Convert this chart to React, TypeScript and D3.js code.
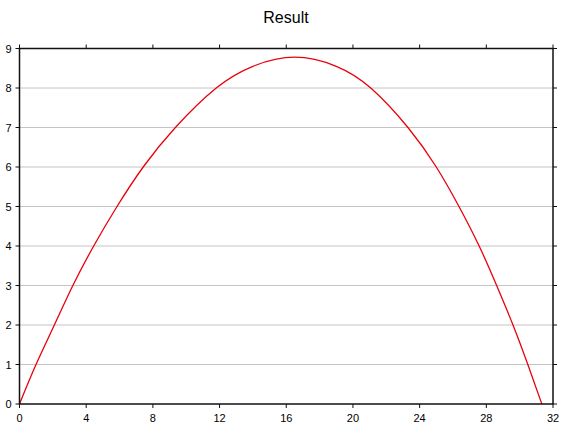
import React, { useEffect, useRef } from "react";
import * as d3 from "d3";

const title = "Result";
const xTicks = [0, 4, 8, 12, 16, 20, 24, 28, 32];
const yTicks = [0, 1, 2, 3, 4, 5, 6, 7, 8, 9];

// values
const xValues = [
  0, 0.99, 2.09, 3.2, 4.45, 5.85, 7.42, 9.35, 11.8, 14.0, 16.5, 19.0,
  21.07, 23.3, 25.0, 26.36, 27.57, 28.62, 29.6, 30.49, 31.33,
];
const yValues = [
  0, 1, 2, 3, 4, 5, 6, 7, 8, 8.55, 8.78, 8.55, 8, 7, 6, 5, 4, 3, 2, 1, 0,
];

const width = 570;
const height = 430;
const margin = { top: 48.5, right: 17, bottom: 26, left: 19.5 };

function App() {
  const ref = useRef<SVGSVGElement>(null);

  useEffect(() => {
    const svg = d3.select(ref.current);
    svg.selectAll("*").remove();

    const x = d3
      .scaleLinear()
      .domain([0, 32])
      .range([margin.left, width - margin.right]);
    const y = d3
      .scaleLinear()
      .domain([0, 9])
      .range([height - margin.bottom, margin.top]);

    const font = "'Liberation Sans', Arial, sans-serif";

    // grid
    svg
      .append("g")
      .selectAll("line")
      .data(yTicks.slice(1, -1))
      .enter()
      .append("line")
      .attr("x1", x(0))
      .attr("x2", x(32))
      .attr("y1", (d) => y(d))
      .attr("y2", (d) => y(d))
      .style("stroke", "#c4c4c4")
      .style("stroke-width", 1);

    // curve
    const line = d3
      .line<number>()
      .x((d) => x(d))
      .y((_, i) => y(yValues[i]))
      .curve(d3.curveNatural);

    svg
      .append("path")
      .attr("d", line(xValues))
      .style("fill", "none")
      .style("stroke", "#e8000b")
      .style("stroke-width", 1.3);

    // frame
    const tickLen = 4;
    const axisColor = "#111";
    svg
      .append("rect")
      .attr("x", x(0))
      .attr("y", y(9))
      .attr("width", x(32) - x(0))
      .attr("height", y(0) - y(9))
      .style("fill", "none")
      .style("stroke", axisColor)
      .style("stroke-width", 1.5);

    const ticks = svg.append("g").style("stroke", axisColor).style("stroke-width", 1);
    xTicks.forEach((t) => {
      ticks
        .append("line")
        .attr("x1", x(t))
        .attr("x2", x(t))
        .attr("y1", y(9))
        .attr("y2", y(9) - tickLen);
      ticks
        .append("line")
        .attr("x1", x(t))
        .attr("x2", x(t))
        .attr("y1", y(0))
        .attr("y2", y(0) + tickLen);
    });
    yTicks.forEach((t) => {
      ticks
        .append("line")
        .attr("x1", x(0))
        .attr("x2", x(0) - tickLen)
        .attr("y1", y(t))
        .attr("y2", y(t));
      ticks
        .append("line")
        .attr("x1", x(32))
        .attr("x2", x(32) + tickLen)
        .attr("y1", y(t))
        .attr("y2", y(t));
    });

    // tick labels
    svg
      .append("g")
      .selectAll("text")
      .data(xTicks)
      .enter()
      .append("text")
      .attr("x", (d) => x(d))
      .attr("y", y(0) + 18)
      .attr("text-anchor", "middle")
      .style("font-family", font)
      .style("font-size", "11px")
      .text((d) => d);

    svg
      .append("g")
      .selectAll("text")
      .data(yTicks)
      .enter()
      .append("text")
      .attr("x", x(0) - 8)
      .attr("y", (d) => y(d) + 4)
      .attr("text-anchor", "end")
      .style("font-family", font)
      .style("font-size", "11px")
      .text((d) => d);

    svg
      .append("text")
      .attr("x", 286)
      .attr("y", 23)
      .attr("text-anchor", "middle")
      .style("font-family", font)
      .style("font-size", "16px")
      .text(title);
  }, []);

  return (
    <svg
      ref={ref}
      width={width}
      height={height}
      style={{ position: "absolute", left: 0, top: 0, background: "#fff" }}
    />
  );
}

export default App;
